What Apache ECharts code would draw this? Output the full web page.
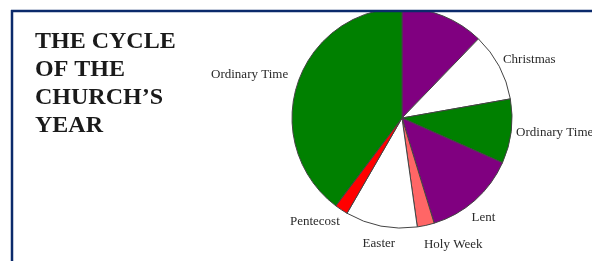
<!DOCTYPE html>
<html>
<head>
<meta charset="utf-8">
<script src="https://cdn.jsdelivr.net/npm/echarts@6/dist/echarts.min.js"></script>
<style>html,body{margin:0;padding:0;background:#fff}#c{width:592px;height:261px}</style>
</head>
<body>
<div id="c"></div>
<script>
// Seasons (clockwise from the top), values in degrees of the circle
const seasons = ['Advent', 'Christmas', 'Ordinary Time', 'Lent', 'Holy Week', 'Easter', 'Pentecost', 'Ordinary Time'];
const values = [44, 36, 34, 49, 9, 38, 7, 143];
const colors = ['#800080', '#ffffff', '#008000', '#800080', '#ff6666', '#ffffff', '#ff0000', '#008000'];
const showLabel = [false, true, true, true, true, true, true, true];
const titleText = 'THE CYCLE\nOF THE\nCHURCH\u2019S\nYEAR';
// small nudges of the label positions (styling, not data)
const labelDx = [0, -10, -10, -15, -9, 21, 9, 5];
const labelDy = [0, -2, 0, 10, 9, 8, 4, -5];

const chart = echarts.init(document.getElementById('c'), null, {renderer: 'canvas'});
chart.setOption({
  animation: false,
  backgroundColor: '#ffffff',
  title: {
    text: titleText,
    left: 30,
    top: 23,
    textStyle: {
      fontFamily: 'Liberation Serif',
      fontWeight: 'bold',
      fontSize: 24,
      lineHeight: 28,
      color: '#1a1a1a'
    }
  },
  series: [{
    type: 'pie',
    center: [402, 118],
    radius: 110,
    startAngle: 90,
    clockwise: true,
    avoidLabelOverlap: false,
    label: {
      show: true,
      position: 'outside',
      fontFamily: 'Liberation Serif',
      fontSize: 13,
      color: '#2a2a2a'
    },
    labelLine: { show: false, length: 10, length2: 0 },
    labelLayout: function (p) {
      return { dx: labelDx[p.dataIndex], dy: labelDy[p.dataIndex] };
    },
    itemStyle: { borderColor: '#444444', borderWidth: 1 },
    data: seasons.map((n, i) => ({
      name: n,
      value: values[i],
      itemStyle: { color: colors[i] },
      label: { show: showLabel[i] }
    }))
  }],
  graphic: [
    { type: 'rect', z: 100, shape: { x: 0, y: 0, width: 592, height: 10 }, style: { fill: '#ffffff' } },
    { type: 'line', z: 101, shape: { x1: 11, y1: 11, x2: 592, y2: 11 }, style: { stroke: '#0b2a6b', lineWidth: 2.5 } },
    { type: 'line', z: 101, shape: { x1: 12, y1: 10, x2: 12, y2: 261 }, style: { stroke: '#0b2a6b', lineWidth: 2.5 } }
  ]
});
</script>
</body>
</html>
